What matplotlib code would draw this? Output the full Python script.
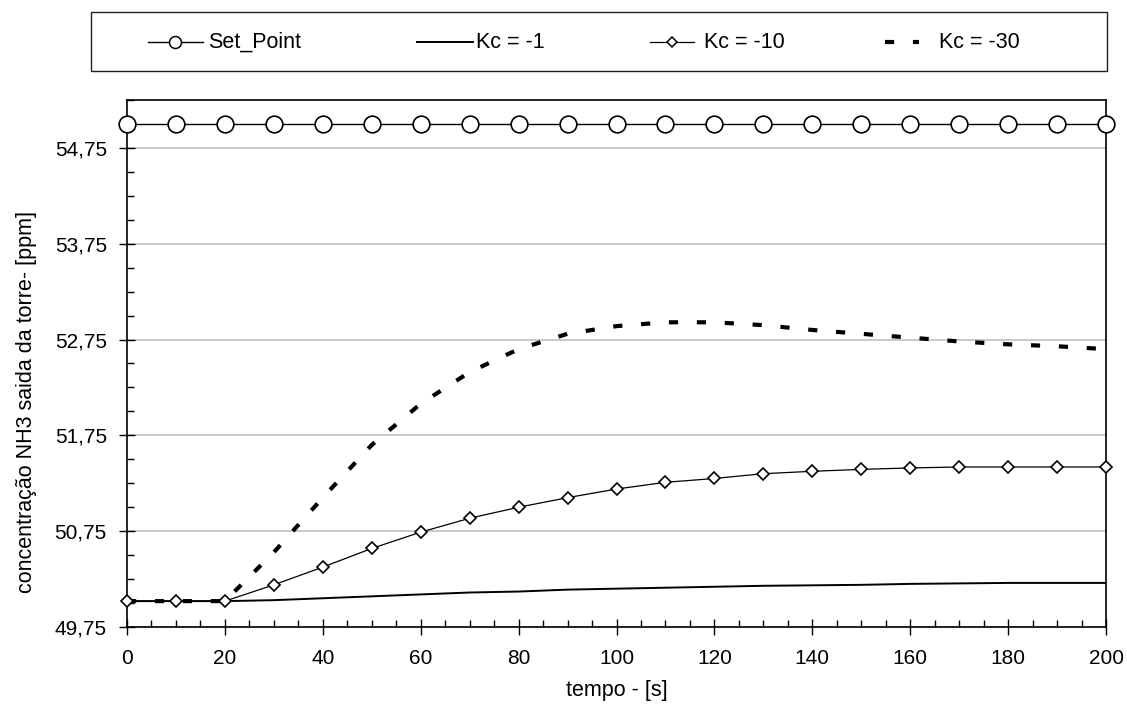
import matplotlib
matplotlib.use("Agg")
import matplotlib.pyplot as plt
from matplotlib.ticker import FixedLocator, MultipleLocator, FuncFormatter
from matplotlib.patches import Rectangle

plt.rcParams['font.family'] = ['Liberation Sans', 'DejaVu Sans']

tempo = [0, 10, 20, 30, 40, 50, 60, 70, 80, 90, 100, 110, 120, 130, 140, 150, 160, 170, 180, 190, 200]
set_point = [55.0] * 21
kc_1 = [50.02, 50.02, 50.02, 50.03, 50.05, 50.07, 50.09, 50.11, 50.12, 50.14, 50.15,
        50.16, 50.17, 50.18, 50.185, 50.19, 50.20, 50.205, 50.21, 50.21, 50.21]
kc_10 = [50.02, 50.02, 50.02, 50.19, 50.375, 50.57, 50.74, 50.885, 51.0, 51.10, 51.19,
         51.26, 51.30, 51.35, 51.375, 51.395, 51.41, 51.42, 51.42, 51.42, 51.42]
kc_30 = [50.02, 50.02, 50.02, 50.53, 51.10, 51.65, 52.08, 52.41, 52.65, 52.81, 52.89,
         52.93, 52.93, 52.90, 52.85, 52.81, 52.77, 52.73, 52.70, 52.68, 52.65]
series_labels = ['Set_Point', 'Kc = -1', 'Kc = -10', 'Kc = -30']
y_ticks = [49.75, 50.75, 51.75, 52.75, 53.75, 54.75]
x_ticks = [0, 20, 40, 60, 80, 100, 120, 140, 160, 180, 200]

fig = plt.figure(figsize=(11.27, 7.10), dpi=100)
W, H = 1127, 710
ax = fig.add_axes([127 / W, 1 - 627 / H, (1106 - 127) / W, (627 - 100) / H])

ax.set_xlim(0, 200)
ax.set_ylim(49.75, 55.25)

ax.yaxis.set_major_locator(FixedLocator(y_ticks))
ax.yaxis.set_minor_locator(MultipleLocator(0.25))
ax.xaxis.set_major_locator(FixedLocator(x_ticks))
ax.xaxis.set_minor_locator(MultipleLocator(5))
ax.yaxis.set_major_formatter(FuncFormatter(lambda v, p: f"{v:.2f}".replace('.', ',')))

ax.grid(axis='y', which='major', color='#c0c0c0', linewidth=1.2)
ax.set_axisbelow(True)

ax.tick_params(axis='both', which='major', direction='inout', length=11, width=1,
               labelsize=15, colors='black')
ax.tick_params(axis='both', which='minor', direction='in', length=5, width=1)
ax.tick_params(axis='x', which='major', pad=10)
ax.tick_params(axis='y', which='major', pad=9)

for s in ax.spines.values():
    s.set_linewidth(1.2)
    s.set_color('black')

ax.plot(tempo, set_point, color='black', linewidth=1, marker='o', markersize=12,
        markerfacecolor='white', markeredgecolor='black', markeredgewidth=1.2,
        clip_on=False, zorder=5)
ax.plot(tempo, kc_1, color='black', linewidth=1.4, zorder=3)
ax.plot(tempo, kc_10, color='black', linewidth=0.9, marker='D', markersize=6.5,
        markerfacecolor='white', markeredgecolor='black', markeredgewidth=1.2,
        clip_on=False, zorder=4)
ax.plot(tempo, kc_30, color='black', linewidth=3.0, linestyle=(0, (2.2, 4.5)), zorder=3)

ax.set_xlabel('tempo - [s]', fontsize=15.5, va='top')
ax.xaxis.set_label_coords(0.5, (627 - 680) / 527)
ax.set_ylabel('concentração NH3 saida da torre- [ppm]', fontsize=15.5)
ax.yaxis.set_label_coords((37 - 127) / 979, (627 - 402) / 527)

# legend box drawn in pixel coordinates on an overlay axes
lax = fig.add_axes([0, 0, 1, 1], zorder=10)
lax.set_xlim(0, W)
lax.set_ylim(H, 0)
lax.axis('off')
lax.add_patch(Rectangle((91, 12), 1107 - 91, 59, facecolor='white', edgecolor='#202020',
                        linewidth=1.0))
ly = 42
# Set_Point
lax.plot([148, 203], [ly, ly], color='black', linewidth=1)
lax.plot([175], [ly], marker='o', markersize=8.6, markerfacecolor='white',
         markeredgecolor='black', markeredgewidth=1.1)
lax.text(208, ly, series_labels[0], fontsize=15.5, va='center', ha='left')
# Kc = -1
lax.plot([417, 473], [ly, ly], color='black', linewidth=1.4)
lax.text(476, ly, series_labels[1], fontsize=15.5, va='center', ha='left')
# Kc = -10
lax.plot([650, 694], [ly, ly], color='black', linewidth=0.9)
lax.plot([672], [ly], marker='D', markersize=5.5, markerfacecolor='white',
         markeredgecolor='black', markeredgewidth=1.1)
lax.text(704, ly, series_labels[2], fontsize=15.5, va='center', ha='left')
# Kc = -30
lax.plot([885, 919], [ly, ly], color='black', linewidth=3.0, linestyle=(0, (2.2, 4.5)),
         dash_capstyle='butt')
lax.text(939, ly, series_labels[3], fontsize=15.5, va='center', ha='left')

fig.savefig('out.png', dpi=100)
